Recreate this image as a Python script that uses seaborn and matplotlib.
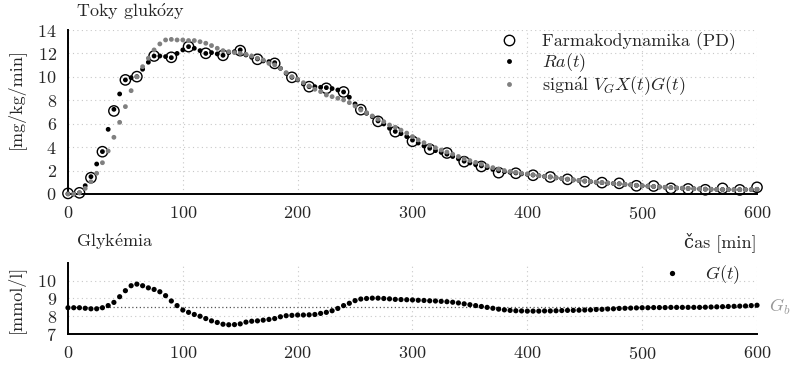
import numpy as np
import seaborn as sns
import matplotlib
matplotlib.use("Agg")
import matplotlib.pyplot as plt
from matplotlib.lines import Line2D
import matplotlib.transforms as mtransforms

# --- DATA ---
t5 = np.arange(0, 605, 5)  # časová mřížka [min]

t_pd = [0, 10, 20, 30, 40, 50, 60, 75, 90, 105, 120, 135, 150, 165, 180, 195, 210,
        225, 240, 255, 270, 285, 300, 315, 330, 345, 360, 375, 390, 405, 420, 435,
        450, 465, 480, 495, 510, 525, 540, 555, 570, 585, 600]
pd_vals = [0.05, 0.1, 1.39, 3.61, 7.09, 9.74, 10.02, 11.78, 11.67, 12.58, 12.01, 11.84,
           12.24, 11.5, 11.15, 9.96, 9.16, 9.02, 8.71, 7.2, 6.2, 5.32, 4.5, 3.82, 3.5,
           2.76, 2.35, 1.82, 1.77, 1.6, 1.45, 1.25, 1.05, 0.97, 0.91, 0.7, 0.68, 0.48,
           0.43, 0.36, 0.48, 0.35, 0.57]

ra_vals = [0.02, 0.0, 0.1, 0.71, 1.48, 2.56, 3.62, 5.52, 7.23, 8.54, 9.74, 9.93, 10.02,
           10.65, 11.25, 11.78, 11.78, 11.73, 11.64, 12.0, 12.3, 12.58,
           12.44, 12.24, 12.0, 12.07, 11.96, 11.84, 12.07, 12.15, 12.3, 11.87, 11.67,
           11.53, 11.36, 11.3, 11.21, 10.73, 10.3, 9.96, 9.74, 9.39, 9.16, 9.16, 9.11,
           9.08, 9.0, 8.88, 8.71, 8.26, 7.69, 7.26, 6.89, 6.6, 6.24, 5.98, 5.61, 5.34,
           5.15, 4.9, 4.6, 4.35, 4.1, 3.9, 3.7, 3.55, 3.4, 3.2, 3.0, 2.8, 2.65, 2.5,
           2.4, 2.25, 2.1, 1.98, 1.9, 1.85, 1.8, 1.72, 1.68, 1.62, 1.56, 1.5,
           1.45, 1.38, 1.32, 1.26, 1.2, 1.15, 1.1, 1.05, 1.0, 0.97, 0.93, 0.9, 0.87,
           0.82, 0.78, 0.74, 0.7, 0.67, 0.64, 0.6, 0.57, 0.54, 0.51, 0.49, 0.47, 0.45,
           0.43, 0.41, 0.4, 0.39, 0.38, 0.38, 0.37, 0.37, 0.37, 0.38, 0.4]

sig_vals = [0.0, 0.0, 0.1, 0.48, 1.05, 1.77, 2.67, 3.67, 4.84, 6.12, 7.46, 8.82, 10.0,
            10.87, 11.59, 12.3, 12.81, 13.15, 13.2, 13.15, 13.15, 13.1,
            13.1, 13.0, 12.87, 12.67, 12.44, 12.24, 12.15, 12.07, 12.0, 11.93, 11.78,
            11.59, 11.44, 11.15, 11.02, 10.73, 10.36, 10.02, 9.79, 9.5, 9.22, 8.94,
            8.74, 8.45, 8.31, 8.17, 8.03, 7.8, 7.51, 7.17, 6.94, 6.66, 6.38, 6.17,
            5.89, 5.7,
            5.45, 5.2, 4.9, 4.62, 4.38, 4.15, 3.95, 3.75, 3.58, 3.4, 3.2, 3.0, 2.85,
            2.7, 2.55, 2.4, 2.25, 2.12, 2.0, 1.92, 1.85, 1.77, 1.7, 1.63, 1.57, 1.5,
            1.46, 1.39, 1.33, 1.27, 1.21, 1.16, 1.11, 1.06, 1.01, 0.98, 0.94, 0.9,
            0.87, 0.82, 0.78, 0.74, 0.7, 0.67, 0.64, 0.6, 0.57, 0.54, 0.51, 0.49,
            0.47, 0.45, 0.43, 0.41, 0.4, 0.39, 0.38, 0.38, 0.37, 0.37, 0.37, 0.38, 0.4]

g_vals = [8.48, 8.48, 8.48, 8.45, 8.42, 8.42, 8.48, 8.6, 8.78, 9.1, 9.44, 9.72, 9.81,
          9.72, 9.6, 9.51, 9.38, 9.16, 8.86, 8.6, 8.35, 8.22, 8.1, 8.0, 7.87, 7.74,
          7.65, 7.55, 7.52, 7.53, 7.57, 7.67, 7.72, 7.74, 7.78, 7.82, 7.87, 7.97,
          8.03, 8.05, 8.07, 8.07, 8.08, 8.1, 8.16, 8.22, 8.31, 8.44, 8.6, 8.73, 8.88,
          8.97, 9.0, 9.02, 9.02, 9.0, 8.98, 8.95,
          8.94, 8.93, 8.92, 8.9, 8.89, 8.87, 8.86, 8.84, 8.82, 8.79, 8.75, 8.7, 8.65,
          8.6, 8.55, 8.5, 8.45, 8.4, 8.36, 8.33, 8.31, 8.3, 8.29, 8.29, 8.29, 8.3,
          8.3, 8.31, 8.32, 8.33, 8.33, 8.34, 8.35, 8.36, 8.38, 8.39, 8.41, 8.42,
          8.44, 8.45, 8.46, 8.47, 8.48, 8.48, 8.49, 8.49, 8.49, 8.5, 8.5, 8.5, 8.5,
          8.5, 8.5, 8.51, 8.52, 8.53, 8.54, 8.55, 8.56, 8.57, 8.58, 8.6, 8.62]

g_basal = 8.5
x_ticks = [0, 100, 200, 300, 400, 500, 600]

# --- STYL ---
sns.set_style("white")
plt.rcParams["font.family"] = ["cmr10", "DejaVu Serif"]
plt.rcParams["mathtext.fontset"] = "cm"
plt.rcParams["axes.formatter.use_mathtext"] = True
plt.rcParams["font.size"] = 13
plt.rcParams["axes.unicode_minus"] = False
FS = 13

fig = plt.figure(figsize=(7.95, 3.7), dpi=100)
ax1 = fig.add_axes([0.0855, 0.4757, 0.8667, 0.4432])
ax2 = fig.add_axes([0.0855, 0.0973, 0.8667, 0.1919])

for ax in (ax1, ax2):
    ax.grid(True, linestyle=(0, (1, 3)), color="#c8c8c8", linewidth=0.8)
    for s in ("top", "right"):
        ax.spines[s].set_visible(False)
    for s in ("left", "bottom"):
        ax.spines[s].set_color("black")
        ax.spines[s].set_linewidth(1.4)
    ax.set_xlim(0, 600)
    ax.set_xticks(x_ticks)
    ax.tick_params(axis="x", direction="out", length=5, width=0.8, labelsize=FS, pad=3)
    ax.tick_params(axis="y", length=0, labelsize=FS, pad=8)
    ax.set_xlabel("")

# --- TOKY GLUKÓZY ---
sns.scatterplot(x=t_pd, y=pd_vals, ax=ax1, marker="o", s=55, facecolor="none",
                edgecolor="black", linewidth=1.0, clip_on=False, zorder=3)
sns.scatterplot(x=t5, y=ra_vals, ax=ax1, marker="o", s=12, color="black",
                edgecolor="none", clip_on=False, zorder=4)
sns.scatterplot(x=t5, y=sig_vals, ax=ax1, marker="o", s=12, color="#808080",
                edgecolor="none", clip_on=False, zorder=5)
ax1.set_ylim(0, 14)
ax1.set_yticks(range(0, 15, 2))
ax1.set_ylabel("[mg/kg/min]", fontsize=FS)
ax1.yaxis.set_label_coords(-0.062, 0.58)
ax1.text(0.012, 1.11, r"Toky gluk$\acute{\mathrm{o}}$zy", transform=ax1.transAxes,
         fontsize=FS, ha="left", va="center")

h = [Line2D([], [], ls="none", marker="o", ms=7.5, mfc="none", mec="black", mew=1.0),
     Line2D([], [], ls="none", marker="o", ms=3.5, mfc="black", mec="none"),
     Line2D([], [], ls="none", marker="o", ms=3.5, mfc="#808080", mec="none")]
ax1.legend(h, ["Farmakodynamika (PD)", "$Ra(t)$",
               r"sign$\acute{\mathrm{a}}$l $V_G X(t) G(t)$"],
           loc="upper left", bbox_to_anchor=(0.616, 1.03), frameon=False,
           handlelength=1.0, handletextpad=1.33, labelspacing=0.02, fontsize=FS,
           borderaxespad=0)

# --- GLYKÉMIA ---
ax2.axhline(g_basal, color="#555555", linestyle=(0, (1, 2)), linewidth=0.9, zorder=2)
sns.scatterplot(x=t5, y=g_vals, ax=ax2, marker="o", s=14, color="black",
                edgecolor="none", clip_on=False, zorder=4)
ax2.set_ylim(7, 11)
ax2.set_yticks([7, 8, 9, 10])
ax2.set_ylabel("[mmol/l]", fontsize=FS)
ax2.yaxis.set_label_coords(-0.062, 0.5)
ax2.text(0.012, 1.3, r"Glyk$\acute{\mathrm{e}}$mia", transform=ax2.transAxes,
         fontsize=FS, ha="left", va="center")
ax2.text(1.0, 1.3, "čas [min]", transform=ax2.transAxes,
         fontsize=FS, ha="right", va="center")
trans = mtransforms.blended_transform_factory(ax2.transAxes, ax2.transData)
ax2.text(1.018, g_basal, "$G_b$", transform=trans, fontsize=FS, color="#999999",
         ha="left", va="center")
hg = [Line2D([], [], ls="none", marker="o", ms=3.8, mfc="black", mec="none")]
ax2.legend(hg, ["$G(t)$"], loc="upper left", bbox_to_anchor=(0.853, 1.1),
           frameon=False, handlelength=1.0, handletextpad=1.33, fontsize=FS,
           borderaxespad=0)

fig.savefig("out.png", dpi=100)
